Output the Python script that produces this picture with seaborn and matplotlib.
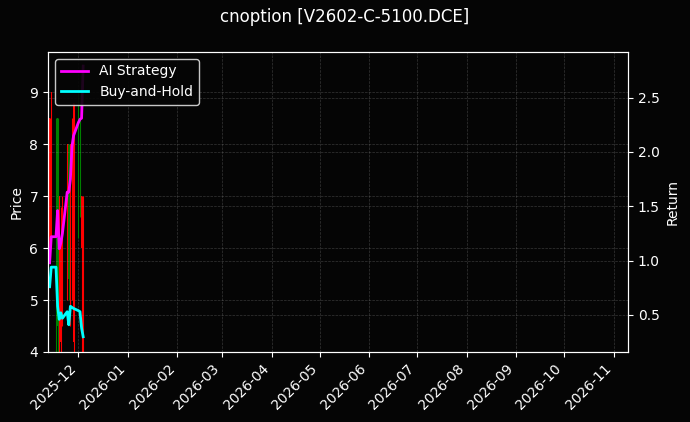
import pandas as pd
import numpy as np
import matplotlib
matplotlib.use('Agg')
import matplotlib.pyplot as plt
import matplotlib.dates as mdates
import seaborn as sns

plt.style.use('dark_background')
plt.rcParams['font.family'] = ['DejaVu Sans']

# data
dates = ['2025-11-13', '2025-11-14', '2025-11-17', '2025-11-18', '2025-11-19', '2025-11-20',
         '2025-11-21', '2025-11-24', '2025-11-25', '2025-11-26', '2025-11-27', '2025-11-28',
         '2025-12-01', '2025-12-02', '2025-12-03', '2025-12-04']
open_ = [6.0, 6.5, 8.5, 8.5, 4.0, 4.2, 5.0, 5.5, 8.0, 5.0, 6.0, 4.2, 9.0, 8.5, 6.0, 4.0]
high = [8.5, 9.0, 8.5, 8.5, 7.0, 6.8, 7.0, 8.0, 8.0, 8.0, 8.5, 8.8, 9.0, 8.5, 7.0, 7.0]
low = [5.8, 6.0, 4.0, 4.0, 4.0, 4.0, 4.5, 5.0, 5.0, 4.5, 5.0, 4.0, 6.2, 6.6, 4.0, 4.0]
close = [8.5, 9.0, 5.0, 4.5, 7.0, 6.2, 6.5, 8.0, 5.4, 8.0, 7.0, 8.8, 6.6, 7.5, 7.0, 5.0]
ai_strategy = [0.98, 1.22, 1.22, 1.46, 1.11, 1.16, 1.25, 1.63, 1.63, 1.75, 2.05, 2.15,
               2.27, 2.30, 2.31, 2.79]
buy_hold = [0.76, 0.94, 0.94, 0.58, 0.46, 0.52, 0.47, 0.53, 0.41, 0.58, 0.57, 0.56,
            0.54, 0.53, 0.38, 0.30]

df = pd.DataFrame({'date': pd.to_datetime(dates), 'open': open_, 'high': high,
                   'low': low, 'close': close, 'AI Strategy': ai_strategy,
                   'Buy-and-Hold': buy_hold})

bg = '#050505'
fig = plt.figure(figsize=(6.9, 4.22), dpi=100, facecolor=bg)
ax1 = fig.add_axes([0.0696, 0.166, 0.8406, 0.711])
ax1.set_facecolor(bg)

# candles
colors = np.where(df['close'] >= df['open'], 'red', 'green')
ax1.vlines(df['date'], df['low'], df['high'], colors=colors, linewidth=0.8)
ax1.bar(df['date'], (df['close'] - df['open']).abs(), bottom=np.minimum(df['open'], df['close']),
        width=0.6, color=colors)
ax1.set_ylabel('Price')
ax1.set_ylim(4, 9.78)
ax1.set_xlim(pd.Timestamp('2025-11-12'), pd.Timestamp('2026-11-10'))
ax1.grid(True, linestyle='--', linewidth=0.5, color='gray', alpha=0.4)

ax2 = ax1.twinx()
sns.lineplot(x='date', y='AI Strategy', data=df, ax=ax2, color='magenta', linewidth=2, label='AI Strategy')
sns.lineplot(x='date', y='Buy-and-Hold', data=df, ax=ax2, color='cyan', linewidth=2, label='Buy-and-Hold')
ax2.set_ylabel('Return')
ax2.set_ylim(0.16, 2.92)
ax2.grid(True, linestyle='--', linewidth=0.5, color='gray', alpha=0.4)
ax2.legend(loc='upper left', facecolor=bg, edgecolor='#dddddd', framealpha=0.9)

ax1.xaxis.set_major_locator(mdates.MonthLocator())
ax1.xaxis.set_major_formatter(mdates.DateFormatter('%Y-%m'))
ax2.set_xlabel('')
plt.setp(ax1.get_xticklabels(), rotation=45, ha='right')

fig.suptitle('cnoption [V2602-C-5100.DCE]', fontsize=12, y=0.98)
fig.savefig('out.png', dpi=100, facecolor=bg)
